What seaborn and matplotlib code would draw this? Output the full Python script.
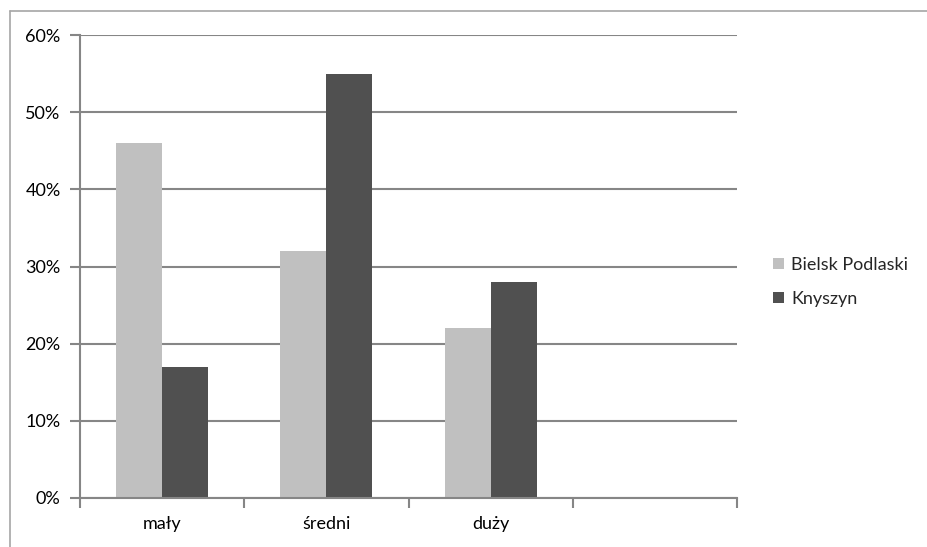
import matplotlib
matplotlib.use("Agg")
import matplotlib.pyplot as plt
import pandas as pd
import seaborn as sns
from matplotlib.lines import Line2D
from matplotlib.ticker import FixedLocator, PercentFormatter

categories = ["mały", "średni", "duży", " "]
bielsk = [46, 32, 22]
knyszyn = [17, 55, 28]
series_names = ["Bielsk Podlaski", "Knyszyn"]
y_ticks = [0, 10, 20, 30, 40, 50, 60]


def main():
    rows = []
    for name, vals in zip(series_names, [bielsk, knyszyn]):
        for cat, v in zip(categories[:3], vals):
            rows.append({"rozmiar": cat, "udzial": v, "miejsce": name})
    df = pd.DataFrame(rows)

    sns.set_theme(style="white")
    plt.rcParams["font.family"] = ["Lato", "DejaVu Sans"]

    fig = plt.figure(figsize=(9.27, 5.47), dpi=100)
    fig.patch.set_facecolor("white")
    ax = fig.add_axes([80 / 927, 1 - 498 / 547, (737 - 80) / 927, (498 - 35) / 547])

    sns.barplot(
        data=df,
        x="rozmiar",
        y="udzial",
        hue="miejsce",
        order=categories,
        hue_order=series_names,
        palette=["#c0c0c0", "#505050"],
        width=0.56,
        saturation=1,
        linewidth=0,
        ax=ax,
    )

    grid_col = "#868686"
    ax.set_ylim(0, 60)
    ax.set_xlim(-0.5, 3.5)
    ax.yaxis.set_major_locator(FixedLocator(y_ticks))
    ax.yaxis.set_major_formatter(PercentFormatter(decimals=0))
    ax.yaxis.grid(True, color=grid_col, linewidth=1.5)
    ax.set_axisbelow(True)
    ax.set_xlabel("")
    ax.set_ylabel("")

    for side in ["top", "right"]:
        ax.spines[side].set_visible(False)
    for side in ["left", "bottom"]:
        ax.spines[side].set_color(grid_col)
        ax.spines[side].set_linewidth(1.5)

    ax.xaxis.set_minor_locator(FixedLocator([-0.5, 0.5, 1.5, 2.5, 3.5]))
    ax.tick_params(axis="x", which="major", length=0, pad=13, labelsize=13, colors="black")
    ax.tick_params(axis="x", which="minor", length=7, width=1.5, color=grid_col, bottom=True)
    ax.tick_params(axis="y", length=7, width=1.5, color=grid_col, left=True, pad=7,
                   labelsize=13, labelcolor="black")

    ax.legend(
        loc="center left",
        bbox_to_anchor=(757 / 927, 1 - 282 / 547),
        bbox_transform=fig.transFigure,
        frameon=False,
        fontsize=13,
        handlelength=0.6,
        handleheight=0.6,
        handletextpad=0.4,
        labelspacing=1.0,
    )

    border = "#a6a6a6"
    fig.add_artist(Line2D([10 / 927, 10 / 927], [0, 1 - 11 / 547], color=border, lw=1.2,
                          transform=fig.transFigure))
    fig.add_artist(Line2D([10 / 927, 1], [1 - 11 / 547, 1 - 11 / 547], color=border, lw=1.2,
                          transform=fig.transFigure))

    fig.savefig("out.png", dpi=100, facecolor="white")
    plt.close(fig)


if __name__ == "__main__":
    main()
